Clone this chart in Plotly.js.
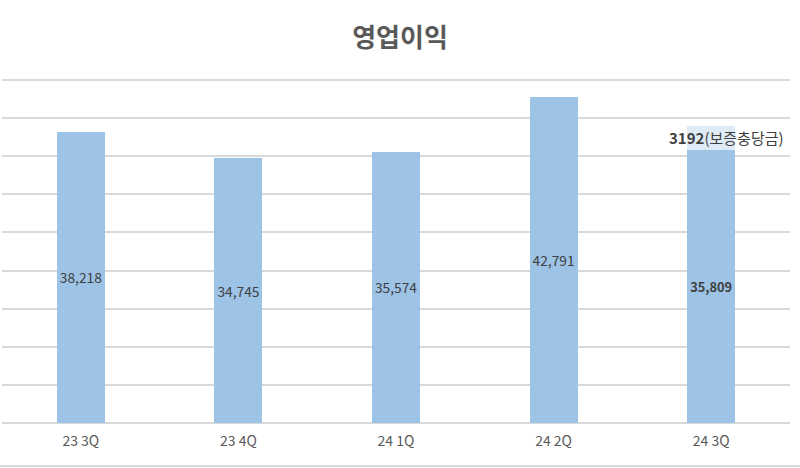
<!DOCTYPE html>
<html>
<head>
<meta charset="utf-8">
<script src="https://cdn.plot.ly/plotly-3.0.1.min.js"></script>
<style>
  html, body { margin: 0; padding: 0; background: #fff; }
  #chart { width: 800px; height: 468px; }
</style>
</head>
<body>
<div id="chart"></div>
<script>
// quarters and operating profit
var quarters = ['23 3Q', '23 4Q', '24 1Q', '24 2Q', '24 3Q'];
var profit = [38218, 34745, 35574, 42791, 35809];
var profitLabels = ['38,218', '34,745', '35,574', '42,791', '<b>35,809</b>'];
// warranty provision added on top of the last quarter
var provision = [null, null, null, null, 3192];
var provisionNote = '(보증충당금)';
var gridVals = [5000, 10000, 15000, 20000, 25000, 30000, 35000, 40000, 45000];

var fontKR = '"Noto Sans CJK KR", "Noto Sans", sans-serif';

var trace1 = {
  type: 'bar',
  x: quarters,
  y: profit,
  text: profitLabels,
  textposition: 'inside',
  insidetextanchor: 'middle',
  textangle: 0,
  textfont: { family: fontKR, size: 15, color: '#404040' },
  marker: { color: '#9DC3E6' },
  hoverinfo: 'skip'
};

var trace2 = {
  type: 'bar',
  x: quarters,
  y: provision,
  marker: { color: '#DEEBF7' },
  hoverinfo: 'skip'
};

var last = quarters.length - 1;

var layout = {
  width: 800,
  height: 468,
  barmode: 'stack',
  bargap: 0.695,
  showlegend: false,
  paper_bgcolor: '#fff',
  plot_bgcolor: '#fff',
  margin: { l: 2, r: 10, t: 72, b: 45, pad: 0 },
  title: {
    text: '<b>영업이익</b>',
    font: { family: fontKR, size: 26, color: '#595959' },
    x: 0.5, xanchor: 'center',
    y: 1 - 38 / 468, yanchor: 'middle'
  },
  xaxis: {
    type: 'category',
    showgrid: false,
    showline: false,
    zeroline: false,
    ticks: '',
    ticklabelstandoff: 8,
    tickfont: { family: fontKR, size: 14, color: '#595959' }
  },
  yaxis: {
    range: [0, 46050],
    tickvals: gridVals,
    showticklabels: false,
    gridcolor: '#D9D9D9',
    gridwidth: 2,
    zeroline: true,
    zerolinecolor: '#D9D9D9',
    zerolinewidth: 2,
    showline: false
  },
  annotations: [{
    x: quarters[last],
    y: profit[last] + provision[last] / 2,
    xref: 'x', yref: 'y',
    text: '<b>' + provision[last] + '</b>' + provisionNote,
    showarrow: false,
    xshift: 15,
    font: { family: fontKR, size: 15, color: '#404040' }
  }],
  shapes: [{
    type: 'line',
    xref: 'paper', yref: 'paper',
    x0: -2 / 788, x1: 798 / 788,
    y0: -43 / 351, y1: -43 / 351,
    line: { color: '#D9D9D9', width: 2 }
  }]
};

Plotly.newPlot('chart', [trace1, trace2], layout, { displayModeBar: false, staticPlot: true });
</script>
</body>
</html>
